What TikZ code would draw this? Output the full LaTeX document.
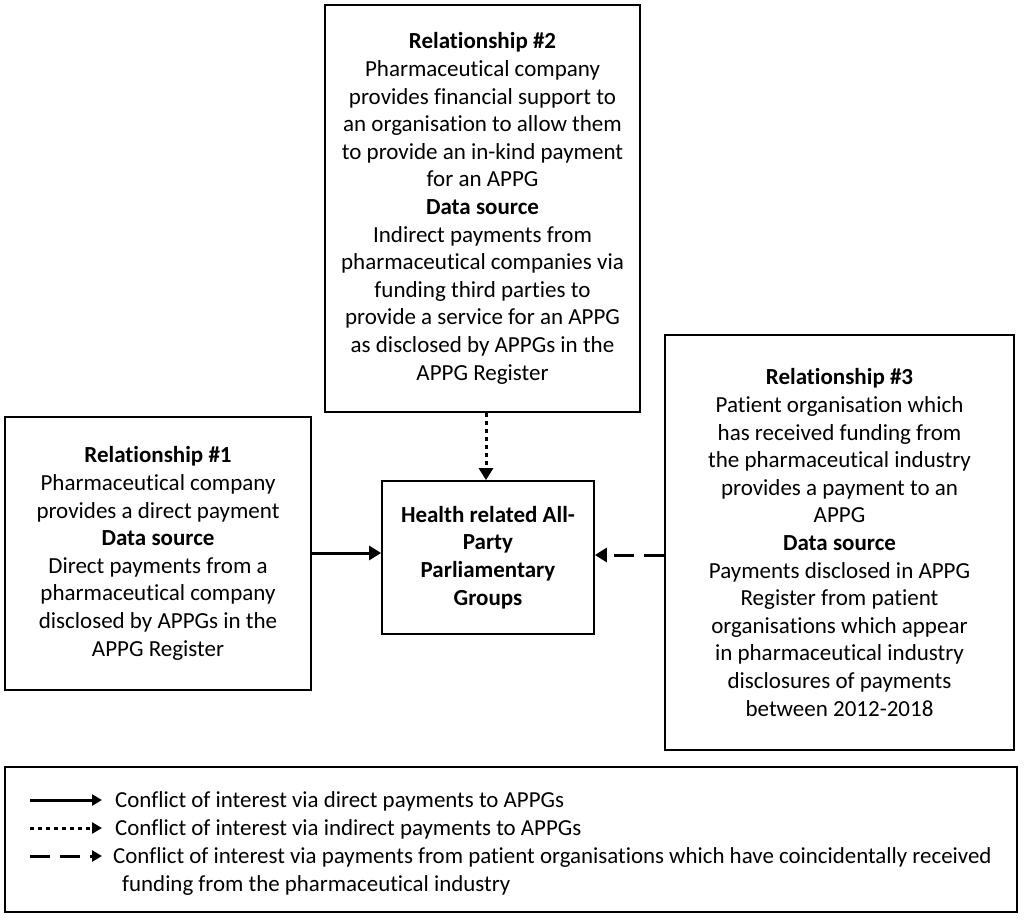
\documentclass[tikz,border=0pt]{standalone}
\usepackage{fontspec}
\setmainfont{Carlito}[Ligatures={NoCommon,NoContextual,NoRare},Contextuals=NoAlternate]
\usetikzlibrary{arrows.meta}
\begin{document}
\begin{tikzpicture}[x=1pt,y=-1pt,
  box/.style={draw, line width=1.8pt, inner sep=0pt, align=center,
    font=\fontsize{23}{27.6}\selectfont},
  conn/.style={line width=3pt, -{Triangle[length=12pt,width=14pt]}},
  dotline/.style={dash pattern=on 4pt off 4pt},
  dashline/.style={dash pattern=on 20pt off 10pt},
  legtext/.style={anchor=base west, inner sep=0pt, font=\fontsize{22.9}{27}\selectfont}]
\useasboundingbox (0,0) rectangle (1024,920);
\fill[white] (0,0) rectangle (1024,920);

\node[box, minimum width=315pt, minimum height=407pt] (r2) at (482.5,208.5)
 {\textbf{Relationship \#2}\\
  Pharmaceutical company\\
  provides financial support to\\
  an organisation to allow them\\
  to provide an in-kind payment\\
  for an APPG\\
  \textbf{Data source}\\
  Indirect payments from\\
  pharmaceutical companies via\\
  funding third parties to\\
  provide a service for an APPG\\
  as disclosed by APPGs in the\\
  APPG Register};

\node[box, minimum width=306pt, minimum height=273pt] (r1) at (158,553.5)
 {\textbf{Relationship \#1}\\
  Pharmaceutical company\\
  provides a direct payment\\
  \textbf{Data source}\\
  Direct payments from a\\
  pharmaceutical company\\
  disclosed by APPGs in the\\
  APPG Register};

\node[box, minimum width=349pt, minimum height=415pt] (r3) at (839.5,542.5)
 {\textbf{Relationship \#3}\\
  Patient organisation which\\
  has received funding from\\
  the pharmaceutical industry\\
  provides a payment to an\\
  APPG\\
  \textbf{Data source}\\
  Payments disclosed in APPG\\
  Register from patient\\
  organisations which appear\\
  in pharmaceutical industry\\
  disclosures of payments\\
  between 2012-2018};

\node[box, minimum width=212pt, minimum height=153pt] (hub) at (488,557.5)
 {\textbf{Health related All-}\\
  \textbf{Party}\\
  \textbf{Parliamentary}\\
  \textbf{Groups}};

\draw[conn] (r1.east |- 0,553) -- (hub.west |- 0,553);
\draw[conn, dotline] (r2.south -| 486,0) -- (hub.north -| 486,0);
\draw[conn, dashline] (r3.west |- 0,555) -- (hub.east |- 0,555);

\node[draw, line width=1.8pt, minimum width=1012pt, minimum height=145pt, inner sep=0pt] (legend) at (511,839.5) {};

\coordinate (l1a) at (30,800); \coordinate (l1b) at (102,800);
\coordinate (l2a) at (30,828); \coordinate (l2b) at (102,828);
\coordinate (l3a) at (30,856); \coordinate (l3b) at (102,856);
\draw[line width=3pt, -{Triangle[length=10pt,width=11pt]}] (l1a) -- (l1b);
\draw[line width=3pt, dotline, -{Triangle[length=10pt,width=11pt]}] (l2a) -- (l2b);
\draw[line width=3pt, dash pattern=on 20pt off 10pt, -{Triangle[length=10pt,width=11pt]}] (l3a) -- (l3b);

\node[legtext] (t1) at (115,807) {Conflict of interest via direct payments to APPGs};
\node[legtext] (t2) at (115,835) {Conflict of interest via indirect payments to APPGs};
\node[legtext] (t3) at (113,863) {Conflict of interest via payments from patient organisations which have coincidentally received};
\node[legtext] (t4) at (122,891) {funding from the pharmaceutical industry};
\end{tikzpicture}
\end{document}
